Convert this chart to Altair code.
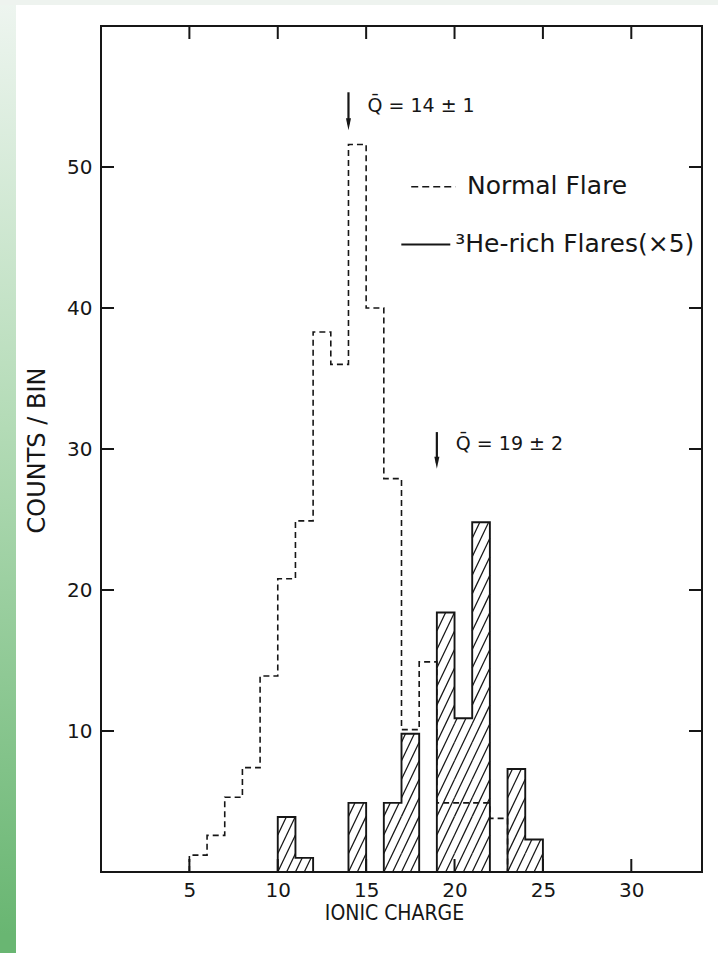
import numpy as np
import pandas as pd
import altair as alt

# ---- data: counts per unit ionic-charge bin (bin lower edges) ----
normal_bins = list(range(5, 23))
normal_counts = [1.2, 2.6, 5.3, 7.4, 13.9, 20.8, 24.9, 38.3, 36.0, 51.6,
                 40.0, 27.9, 10.1, 14.9, 4.9, 4.9, 4.9, 3.8]

he_bins = list(range(10, 25))
he_counts = [3.9, 1.0, 0, 0, 4.9, 0, 4.9, 9.8, 0, 18.4, 10.9, 24.8, 0, 7.3, 2.3]

x_ticks = [5, 10, 15, 20, 25, 30]
y_ticks = [10, 20, 30, 40, 50]

mean_charge = [14, 19]
mean_text = ["Q\u0304 = 14 \u00b1 1", "Q\u0304 = 19 \u00b1 2"]
legend_text = ["Normal Flare", "\u00b3He-rich Flares(\u00d75)"]

# ---- layout ----
W, H = 601, 846
INK = "#161616"
FONT = "DejaVu Sans"
FONT_COND = "DejaVu Sans Condensed, Liberation Sans Narrow, DejaVu Sans"
TICK = 13

xs = alt.Scale(domain=[0, 34], nice=False, zero=False)
ys = alt.Scale(domain=[0, 60], nice=False, zero=False)

x_axis = alt.Axis(values=x_ticks, title="IONIC CHARGE", ticks=False, domain=False,
                  grid=False, labelPadding=8, titleX=293, titleY=41,
                  titleBaseline="middle", titleAlign="center",
                  titleFont=FONT_COND, titleFontSize=21)
y_axis = alt.Axis(values=y_ticks, title="COUNTS / BIN", ticks=False, domain=False,
                  grid=False, labelPadding=9, titleX=-64, titleY=450 - 26,
                  titleAngle=270, titleBaseline="middle", titleAlign="center",
                  titleFont=FONT, titleFontSize=24)


def X(field):
    return alt.X(field, scale=xs, axis=x_axis)


def Y(field):
    return alt.Y(field, scale=ys, axis=y_axis)


def outline(bins, counts):
    """Histogram outline as a step path (starts and ends on the baseline)."""
    xv = [bins[0]] + list(bins) + [bins[-1] + 1]
    yv = [0] + list(counts) + [0]
    return pd.DataFrame({"x": xv, "y": yv, "i": range(len(xv))})


def hatch(bins, counts, slope=2.63, step=0.5):
    """Diagonal '/' hatch segments clipped to each bar of the histogram."""
    rows = []
    top = max(counts)
    cs = np.arange(np.floor((bins[0] - top / slope) / step) * step,
                   bins[-1] + 1 + step, step)
    for a, h in zip(bins, counts):
        if h <= 0:
            continue
        for c in cs:
            x0 = max(a, c)
            x1 = min(a + 1, c + h / slope)
            if x1 - x0 > 1e-6:
                rows.append({"x": x0, "y": slope * (x0 - c),
                             "x2": x1, "y2": slope * (x1 - c)})
    return pd.DataFrame(rows)


normal_df = outline(normal_bins, normal_counts)
he_df = outline(he_bins, he_counts)
hatch_df = hatch(he_bins, he_counts)

one = pd.DataFrame({"k": [0]})

# page decoration: green strip on the left and pale band on top
left_strip = alt.Chart(one).mark_rect(
    fill={"gradient": "linear", "x1": 0, "x2": 0, "y1": 0, "y2": 1,
          "stops": [{"offset": 0, "color": "#eef5f0"},
                    {"offset": 0.45, "color": "#b3dbb6"},
                    {"offset": 0.98, "color": "#69b672"},
                    {"offset": 1, "color": "#69b672"}]}
).encode(x=alt.value(-101), x2=alt.value(-85), y=alt.value(-26), y2=alt.value(H + 81))

top_band = alt.Chart(one).mark_rect(fill="#eef3ef").encode(
    x=alt.value(-101), x2=alt.value(W + 16), y=alt.value(-26), y2=alt.value(-21))

hatch_layer = alt.Chart(hatch_df).mark_rule(color=INK, strokeWidth=1.25).encode(
    x=X("x:Q"), x2="x2:Q", y=Y("y:Q"), y2="y2:Q")

he_line = alt.Chart(he_df).mark_line(color=INK, strokeWidth=1.9, interpolate="step-after").encode(
    x=X("x:Q"), y=Y("y:Q"), order="i:Q")

normal_line = alt.Chart(normal_df).mark_line(
    color=INK, strokeWidth=1.6, strokeDash=[6, 4], interpolate="step-after").encode(
    x=X("x:Q"), y=Y("y:Q"), order="i:Q")

# inward-pointing ticks on all four sides
xt = pd.DataFrame({"v": x_ticks})
yt = pd.DataFrame({"v": y_ticks})
tick_kw = dict(color=INK, strokeWidth=2)
ticks_bottom = alt.Chart(xt).mark_rule(**tick_kw).encode(
    x=X("v:Q"), y=alt.value(H), y2=alt.value(H - TICK))
ticks_top = alt.Chart(xt).mark_rule(**tick_kw).encode(
    x=X("v:Q"), y=alt.value(0), y2=alt.value(TICK))
ticks_left = alt.Chart(yt).mark_rule(**tick_kw).encode(
    y=Y("v:Q"), x=alt.value(0), x2=alt.value(TICK))
ticks_right = alt.Chart(yt).mark_rule(**tick_kw).encode(
    y=Y("v:Q"), x=alt.value(W), x2=alt.value(W - TICK))

# mean-charge arrows and labels
arrows = pd.DataFrame({"x": mean_charge, "top": [55.3, 31.2], "tip": [52.6, 28.6],
                       "t": mean_text})
arrows["head"] = arrows["tip"] + 0.43
arrows["ty"] = arrows["tip"] + 1.3
shaft = alt.Chart(arrows).mark_rule(color=INK, strokeWidth=2.2).encode(
    x=X("x:Q"), y=Y("top:Q"), y2="head:Q")
head = alt.Chart(arrows).mark_point(
    shape="M-0.42,-1L0.42,-1L0,1Z", size=144, filled=True, color=INK, opacity=1,
    strokeWidth=0).encode(x=X("x:Q"), y=Y("head:Q"))
mean_labels = alt.Chart(arrows).mark_text(
    align="left", baseline="alphabetic", dx=19, font=FONT, fontSize=19, color=INK).encode(
    x=X("x:Q"), y=Y("ty:Q"), text="t:N")

# legend drawn inside the frame
leg = pd.DataFrame({"x": [17.55, 16.99], "x2": [20.05, 19.76], "y": [48.6, 44.5],
                    "tx": [20.71, 20.04], "ty": [48.1, 44.0], "t": legend_text})
leg_dash = alt.Chart(leg.iloc[[0]]).mark_rule(color=INK, strokeWidth=1.6, strokeDash=[7, 4]).encode(
    x=X("x:Q"), x2="x2:Q", y=Y("y:Q"))
leg_solid = alt.Chart(leg.iloc[[1]]).mark_rule(color=INK, strokeWidth=1.9).encode(
    x=X("x:Q"), x2="x2:Q", y=Y("y:Q"))
leg_text = alt.Chart(leg).mark_text(
    align="left", baseline="alphabetic", font=FONT, fontSize=25, color=INK).encode(
    x=X("tx:Q"), y=Y("ty:Q"), text="t:N")

chart = alt.layer(
    left_strip, top_band, hatch_layer, he_line, normal_line,
    ticks_bottom, ticks_top, ticks_left, ticks_right,
    shaft, head, mean_labels, leg_dash, leg_solid, leg_text,
).properties(
    width=W, height=H,
    autosize=alt.AutoSizeParams(type="none"),
    padding={"left": 101, "top": 26, "right": 16, "bottom": 81},
    background="white",
).configure_view(
    stroke=INK, strokeWidth=2,
).configure_axis(
    labelFont=FONT, labelFontSize=20, labelColor=INK,
    titleColor=INK, titleFontWeight="normal",
)

chart.save("out.html", embed_options={"renderer": "svg", "actions": False})
